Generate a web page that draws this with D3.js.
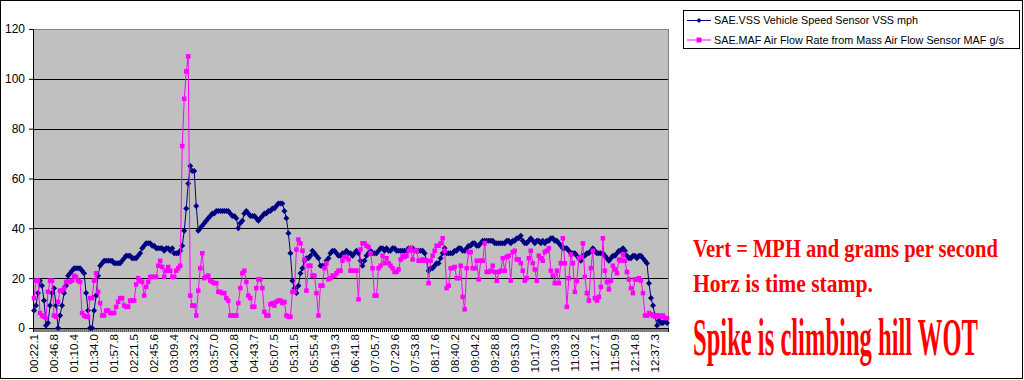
<!DOCTYPE html>
<html>
<head>
<meta charset="utf-8">
<script src="https://cdn.jsdelivr.net/npm/d3@7"></script>
<style>
  body { margin: 0; background: #fff; }
  svg { display: block; }
</style>
</head>
<body>
<div id="chart"></div>
<script>
// x-axis labels: one every 10 samples
const times = ["00:22.1","00:46.8","01:10.4","01:34.0","01:57.8","02:21.5","02:45.6","03:09.4",
  "03:33.2","03:57.0","04:20.8","04:43.7","05:07.5","05:31.5","05:55.4","06:19.3","06:41.8",
  "07:05.7","07:29.6","07:53.8","08:17.6","08:40.2","09:04.2","09:28.8","09:53.0","10:17.0",
  "10:39.3","11:03.2","11:27.1","11:50.9","12:14.8","12:37.3"];

const yTicks = [0, 20, 40, 60, 80, 100, 120];

const seriesNames = ["SAE.VSS Vehicle Speed Sensor VSS mph",
  "SAE.MAF Air Flow Rate from Mass Air Flow Sensor MAF g/s"];

// SAE.VSS, mph
const vss = [
  7, 9, 14, 19, 17, 11, 1, 2, 9, 14,
  16, 9, 0, 5, 9, 14, 17, 21, 22, 23,
  24, 24, 24, 24, 23, 22, 14, 7, 0, 0,
  7, 13, 21, 25, 26, 27, 27, 27, 27, 27,
  26, 26, 26, 26, 27, 28, 29, 29, 29, 28,
  28, 28, 29, 30, 32, 33, 34, 34, 34, 33,
  33, 32, 32, 32, 32, 31, 32, 32, 31, 32,
  30, 30, 30, 31, 33, 39, 48, 58, 65, 63,
  63, 49, 39, 40, 41, 42, 43, 44, 45, 46,
  46, 47, 47, 47, 47, 47, 47, 47, 46, 45,
  45, 44, 40, 42, 43, 46, 47, 46, 45, 45,
  45, 44, 43, 44, 45, 46, 46, 47, 47, 48,
  48, 49, 50, 50, 50, 47, 44, 38, 30, 19,
  16, 14, 17, 22, 24, 27, 28, 28, 29, 31,
  30, 29, 28, 25, 25, 25, 27, 28, 30, 31,
  31, 30, 29, 29, 30, 30, 31, 30, 30, 29,
  30, 31, 30, 27, 25, 27, 29, 30, 31, 30,
  30, 30, 31, 32, 32, 31, 32, 31, 31, 32,
  32, 31, 31, 31, 31, 31, 31, 32, 32, 32,
  31, 31, 31, 31, 31, 30, 27, 23, 24, 24,
  25, 26, 26, 28, 30, 32, 30, 30, 30, 30,
  31, 31, 32, 32, 31, 31, 32, 33, 33, 34,
  34, 33, 33, 34, 35, 35, 35, 35, 35, 35,
  34, 34, 34, 34, 34, 34, 35, 35, 34,
  35, 35, 36, 36, 37, 35, 34, 34, 35, 36,
  35, 34, 35, 35, 34, 35, 34, 35, 35, 36,
  36, 35, 35, 34, 33, 32, 32, 32, 31, 30,
  30, 30, 29, 28, 27, 29, 29, 30, 30, 31,
  32, 31, 30, 30, 30, 30, 29, 28, 27, 28,
  29, 29, 30, 31, 31, 32, 31, 29, 28, 28,
  29, 29, 28, 29, 29, 28, 27, 26, 18, 12,
  9, 5, 1, 3, 2, 2, 3, 2
];

// SAE.MAF, g/s
const maf = [
  12, 19, 19, 6, 5, 4.5, 4, 14.5, 19, 19,
  5, 4.5, 10.5, 15, 15, 16, 18.5, 18.5, 18.5, 19,
  21, 20.5, 19, 18.5, 6, 5, 4.5, 4.5, 12, 12,
  19, 22, 14.5, 10, 5, 5, 7, 7, 6, 6,
  6, 8.5, 10.5, 12, 12, 9, 8.5, 8.5, 11, 11,
  11, 17.5, 20, 19, 18.5, 13, 16.5, 18.5, 20.5, 20.5,
  20.5, 20.5, 25, 27, 24.5, 20.5, 23, 24.5, 23, 20.5,
  20.5, 23, 24, 25, 73, 92, 103, 109, 13, 9,
  9, 5, 15, 24, 30, 20, 20.5, 21, 19, 18.5,
  18, 18, 14.5, 14.5, 14, 14, 12, 11, 5, 5,
  5, 5, 10, 16, 22, 23, 18.5, 13, 12, 8.5,
  8.5, 16, 19.5, 19.5, 16, 6.5, 5, 5, 9.5, 10,
  9, 10.5, 11, 11, 10, 10.5, 5, 4.5, 4.5, 14.5,
  14.5, 31.5, 35.5, 34, 31, 27.5, 15, 25, 25, 21,
  21, 14, 5, 17, 17, 24, 26, 19.5, 20, 21,
  21, 22, 23, 23, 27, 28.5, 28.5, 27.5, 23, 23,
  23, 23, 11.5, 31.5, 34, 34, 33, 32.5, 30, 24,
  13, 13, 24, 25, 29, 26, 28, 26, 25, 24,
  22.5, 22.5, 23.5, 27.5, 29, 28.5, 29, 31, 32, 27.5,
  31, 31, 27, 27, 27.5, 27, 27, 18, 27, 29,
  31, 33, 33, 34, 36, 31, 16, 17, 24, 24,
  24.5, 20, 20, 25, 12.5, 7.5, 24, 30.5, 30.5, 24,
  24, 27, 19.5, 27, 27, 34, 22.5, 22.5, 23, 25,
  22.5, 19, 22.5, 23, 28, 23, 28.5, 29, 19, 30.5,
  31, 27.5, 27.5, 26, 23, 19, 20, 28, 31, 26,
  23.5, 19, 29, 28, 27, 30.5, 31, 32, 23, 21,
  18, 23, 18, 26, 36, 26, 8.5, 20, 29.5, 26,
  14.5, 19, 28, 28.5, 34, 20.5, 14, 11, 24, 31,
  12, 11, 12.5, 16.5, 36, 23, 18.5, 15.5, 19, 25,
  23.5, 22, 27.5, 27, 29.5, 27, 22.5, 19.5, 16, 14,
  19.5, 19.5, 20, 19, 14, 5, 5, 6, 5.5, 5,
  4.5, 5, 5, 4.5, 5, 4, 4
];

const notes = ["Vert = MPH and grams per second", "Horz is time stamp.", "Spike is climbing hill WOT"];

const W = 1024, H = 380;
const margin = {top: 29, right: 356, bottom: 52, left: 33},
  width = W - margin.left - margin.right,
  height = H - margin.top - margin.bottom;

const svg = d3.select("#chart")
  .append("svg")
  .attr("width", W)
  .attr("height", H)
  .style("font-family", "'Liberation Sans', Arial, sans-serif");

// outer frame
svg.append("rect")
  .attr("x", 0.5).attr("y", 0.5)
  .attr("width", W - 2).attr("height", H - 2)
  .attr("fill", "#fff")
  .attr("stroke", "#000");

const g = svg.append("g")
  .attr("transform", `translate(${margin.left},${margin.top})`);

const x = d3.scaleBand()
  .domain(d3.range(vss.length))
  .range([0, width]);

const y = d3.scaleLinear()
  .domain([0, 120])
  .range([height, 0]);

// plot area
g.append("rect")
  .attr("x", 0.5).attr("y", 0.5)
  .attr("width", width).attr("height", height)
  .attr("fill", "#c0c0c0")
  .attr("stroke", "#808080");

// gridlines
g.selectAll(".grid")
  .data(yTicks.filter(d => d > 0 && d < 120))
  .join("line")
  .attr("class", "grid")
  .attr("x1", 0).attr("x2", width)
  .attr("y1", d => Math.round(y(d)) + 0.5)
  .attr("y2", d => Math.round(y(d)) + 0.5)
  .attr("stroke", "#000");

// y axis
const yAxis = g.append("g")
  .call(d3.axisLeft(y).tickValues(yTicks).tickSize(4).tickPadding(4));
yAxis.select(".domain").attr("stroke", "#000");
yAxis.selectAll("text")
  .style("font-size", "12px")
  .attr("fill", "#000");

// x axis
const xAxis = g.append("g")
  .attr("transform", `translate(0,${height})`)
  .call(d3.axisBottom(x)
    .tickSize(4)
    .tickFormat(d => d % 10 === 0 ? times[d / 10] : ""));
xAxis.select(".domain").attr("stroke", "#000");
xAxis.selectAll(".tick line").attr("stroke", "#000");
xAxis.selectAll("text")
  .attr("transform", "rotate(-90)")
  .attr("text-anchor", "end")
  .attr("x", -6)
  .attr("y", 0)
  .attr("dy", "0.35em")
  .style("font-size", "11.5px")
  .attr("fill", "#000");

const cx = i => x(i) + x.bandwidth() / 2;

const line = d3.line()
  .x((d, i) => cx(i))
  .y(d => y(d));

// VSS series
g.append("path")
  .datum(vss)
  .attr("fill", "none")
  .attr("stroke", "#000080")
  .attr("stroke-width", 1)
  .attr("d", line);

g.selectAll(".vss")
  .data(vss)
  .join("path")
  .attr("class", "vss")
  .attr("transform", (d, i) => `translate(${cx(i)},${y(d)})`)
  .attr("d", "M0,-3L3,0L0,3L-3,0Z")
  .attr("fill", "#000080");

// MAF series
g.append("path")
  .datum(maf)
  .attr("fill", "none")
  .attr("stroke", "#ff00ff")
  .attr("stroke-width", 1)
  .attr("d", line);

g.selectAll(".maf")
  .data(maf)
  .join("rect")
  .attr("class", "maf")
  .attr("x", (d, i) => cx(i) - 2.25)
  .attr("y", d => y(d) - 2.25)
  .attr("width", 4.5)
  .attr("height", 4.5)
  .attr("fill", "#ff00ff");

// legend
const legend = svg.append("g")
  .attr("transform", "translate(683,10)");

legend.append("rect")
  .attr("x", 0.5).attr("y", 0.5)
  .attr("width", 336).attr("height", 38)
  .attr("fill", "#fff")
  .attr("stroke", "#000");

const colors = ["#000080", "#ff00ff"];
const item = legend.selectAll(".item")
  .data(seriesNames)
  .join("g")
  .attr("class", "item")
  .attr("transform", (d, i) => `translate(0,${10 + i * 19.5})`);

item.append("line")
  .attr("x1", 4).attr("x2", 28)
  .attr("y1", 0.5).attr("y2", 0.5)
  .attr("stroke", (d, i) => colors[i]);

item.append("path")
  .attr("transform", "translate(16,0.5)")
  .attr("d", (d, i) => i === 0 ? "M0,-2.5L2.5,0L0,2.5L-2.5,0Z" : "M-2.5,-2.5H2.5V2.5H-2.5Z")
  .attr("fill", (d, i) => colors[i]);

item.append("text")
  .attr("x", 31)
  .attr("y", 0.5)
  .attr("dy", "0.35em")
  .style("font-size", "10.8px")
  .text(d => d);

// red notes, squeezed horizontally like the condensed original
const noteStyle = [
  {x: 693, y: 257, size: 25, len: 305},
  {x: 693, y: 292, size: 25, len: 180},
  {x: 693, y: 355, size: 52, len: 285}
];

const noteG = svg.selectAll(".note")
  .data(notes)
  .join("g")
  .attr("class", "note");

noteG.append("text")
  .style("font-family", "'Liberation Serif', 'Times New Roman', serif")
  .style("font-weight", "bold")
  .style("font-size", (d, i) => noteStyle[i].size + "px")
  .attr("fill", "#ff0000")
  .text(d => d);

noteG.each(function(d, i) {
  const s = noteStyle[i];
  const natural = d3.select(this).select("text").node().getComputedTextLength();
  d3.select(this).attr("transform", `translate(${s.x},${s.y}) scale(${s.len / natural},1)`);
});
</script>
</body>
</html>
